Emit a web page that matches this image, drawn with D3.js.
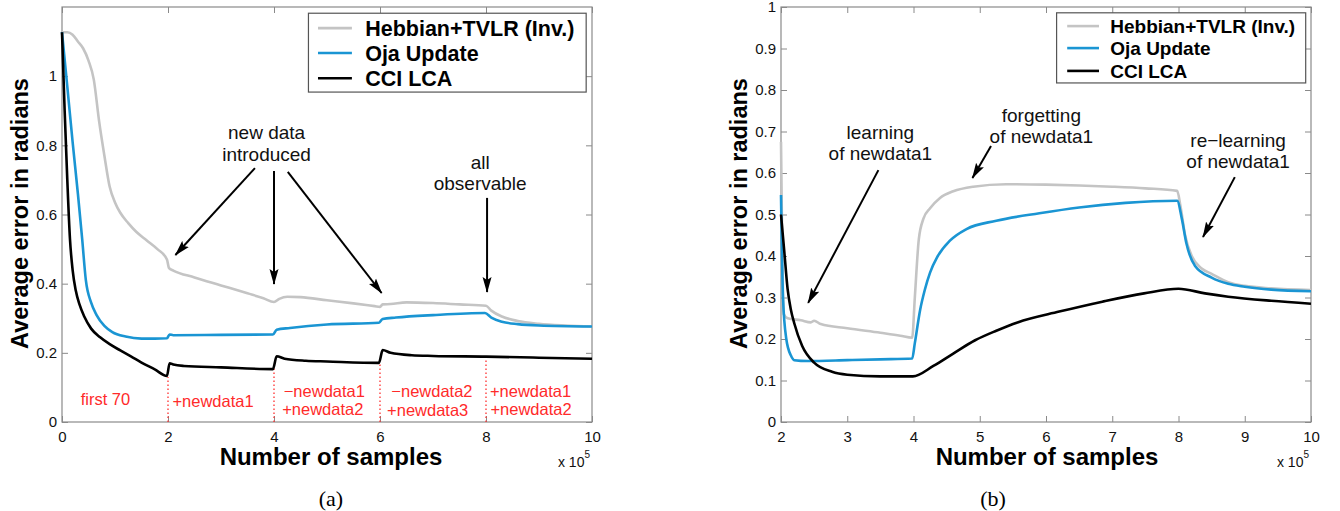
<!DOCTYPE html>
<html><head><meta charset="utf-8">
<script src="https://cdn.jsdelivr.net/npm/d3@7"></script>
<style>body{margin:0;background:#fff}</style>
</head><body>
<svg id="c" width="1340" height="511"></svg>
<script>
// ---------- data ----------
const seriesNames = ["Hebbian+TVLR (Inv.)", "Oja Update", "CCI LCA"];
const seriesColors = ["#c4c4c4", "#1a95d3", "#000000"];

// panel (a): x in units of 1e5 samples, y in radians
const hebbA = [[0,1.127],[0.1,1.127],[0.2,1.12],[0.3,1.10],[0.4,1.08],[0.5,1.045],[0.6,0.99],[0.7,0.87],[0.8,0.77],[0.9,0.68],[1.0,0.635],[1.1,0.605],[1.25,0.575],[1.4,0.55],[1.6,0.525],[1.8,0.50],[1.98,0.47],[2.02,0.445],[2.1,0.438],[2.5,0.418],[3.0,0.395],[3.5,0.372],[3.8,0.358],[4.0,0.347],[4.1,0.356],[4.25,0.362],[4.5,0.361],[5.0,0.352],[5.5,0.343],[5.9,0.335],[6.0,0.333],[6.05,0.34],[6.2,0.341],[6.5,0.346],[7.0,0.344],[7.5,0.34],[8.0,0.336],[8.1,0.322],[8.3,0.305],[8.6,0.292],[9.0,0.284],[9.5,0.279],[10,0.276]];
const ojaA = [[0,1.127],[0.1,0.97],[0.2,0.81],[0.3,0.66],[0.38,0.53],[0.45,0.41],[0.55,0.345],[0.65,0.31],[0.8,0.278],[0.95,0.26],[1.2,0.247],[1.5,0.241],[1.75,0.241],[1.98,0.242],[2.03,0.253],[2.1,0.251],[3.0,0.252],[3.98,0.253],[4.05,0.267],[4.3,0.272],[5.0,0.282],[5.98,0.287],[6.05,0.298],[6.3,0.302],[7.0,0.309],[7.98,0.315],[8.1,0.302],[8.3,0.29],[8.6,0.283],[9.0,0.279],[10,0.276]];
const cciA = [[0,1.127],[0.05,0.9],[0.1,0.7],[0.15,0.53],[0.2,0.44],[0.26,0.38],[0.33,0.34],[0.42,0.305],[0.55,0.27],[0.72,0.245],[0.9,0.225],[1.1,0.207],[1.3,0.19],[1.5,0.172],[1.75,0.152],[1.98,0.133],[2.03,0.17],[2.1,0.166],[2.3,0.162],[3.0,0.158],[3.98,0.153],[4.05,0.19],[4.2,0.183],[4.6,0.177],[5.0,0.175],[5.98,0.171],[6.05,0.208],[6.2,0.2],[6.6,0.193],[7.0,0.191],[8.0,0.189],[9.0,0.186],[10,0.183]];

// panel (b)
const hebbB = [[2.0,0.675],[2.02,0.4],[2.04,0.26],[2.1,0.25],[2.3,0.245],[2.45,0.24],[2.5,0.244],[2.6,0.236],[3.0,0.226],[3.5,0.215],[3.8,0.208],[3.98,0.203],[4.02,0.3],[4.08,0.44],[4.15,0.49],[4.25,0.515],[4.4,0.54],[4.6,0.556],[4.9,0.567],[5.4,0.573],[6.0,0.572],[6.5,0.57],[7.0,0.567],[7.5,0.563],[7.98,0.557],[8.03,0.52],[8.1,0.45],[8.2,0.4],[8.35,0.37],[8.5,0.357],[8.75,0.337],[9.0,0.328],[9.4,0.322],[10,0.318]];
const ojaB = [[2.0,0.547],[2.03,0.3],[2.08,0.2],[2.15,0.16],[2.2,0.149],[2.4,0.147],[3.0,0.149],[3.5,0.151],[3.98,0.153],[4.02,0.19],[4.1,0.27],[4.17,0.318],[4.25,0.36],[4.36,0.398],[4.55,0.437],[4.8,0.465],[5.25,0.485],[5.9,0.503],[6.5,0.517],[7.2,0.528],[7.98,0.533],[8.05,0.49],[8.12,0.43],[8.25,0.376],[8.5,0.348],[8.75,0.333],[9.0,0.326],[9.4,0.319],[10,0.315]];
const cciB = [[2.0,0.50],[2.05,0.41],[2.1,0.32],[2.15,0.27],[2.2,0.238],[2.32,0.183],[2.5,0.143],[2.77,0.121],[3.0,0.114],[3.5,0.11],[3.99,0.11],[4.3,0.135],[4.6,0.165],[4.93,0.197],[5.25,0.22],[5.57,0.24],[6.2,0.266],[6.85,0.29],[7.48,0.31],[8.0,0.321],[8.4,0.31],[8.75,0.302],[9.4,0.292],[10,0.285]];

const xTicksA = [0,2,4,6,8,10];
const yTicksA = [0,0.2,0.4,0.6,0.8,1];
const xTicksB = [2,3,4,5,6,7,8,9,10];
const yTicksB = [0,0.1,0.2,0.3,0.4,0.5,0.6,0.7,0.8,0.9,1];

// red phase markers (panel a)
const phaseX = [2,4,6,8];
const phaseTop = [0.13,0.155,0.17,0.178];
const phaseLabels = [
  {x:0.82, y:0.049, t:"first 70"},
  {x:2.85, y:0.043, t:"+newdata1"},
  {x:4.95, y:0.072, t:"\u2212newdata1"},
  {x:4.92, y:0.020, t:"+newdata2"},
  {x:6.98, y:0.072, t:"\u2212newdata2"},
  {x:6.90, y:0.018, t:"+newdata3"},
  {x:8.84, y:0.072, t:"+newdata1"},
  {x:8.85, y:0.020, t:"+newdata2"}
];

// black annotations
const notesA = [
  {x:3.86, y:0.818, t:"new data"},
  {x:3.86, y:0.755, t:"introduced"},
  {x:7.89, y:0.732, t:"all"},
  {x:7.89, y:0.671, t:"observable"}
];
const arrowsA = [
  [3.64,0.734, 2.14,0.483],
  [4.00,0.726, 4.00,0.399],
  [4.26,0.723, 6.03,0.373],
  [8.02,0.648, 8.02,0.376]
];
const notesB = [
  {x:3.50, y:0.682, t:"learning"},
  {x:3.50, y:0.631, t:"of newdata1"},
  {x:5.93, y:0.723, t:"forgetting"},
  {x:5.93, y:0.672, t:"of newdata1"},
  {x:8.90, y:0.663, t:"re\u2212learning"},
  {x:8.90, y:0.612, t:"of newdata1"}
];
const arrowsB = [
  [3.47,0.607, 2.41,0.287],
  [5.17,0.665, 4.89,0.588],
  [8.85,0.590, 8.37,0.446]
];

// ---------- drawing ----------
const svg = d3.select("#c");
const SANS = "'Liberation Sans', Arial, Helvetica, sans-serif";
const AXC = "#8a8a8a";

const defs = svg.append("defs");
defs.append("marker").attr("id","ah").attr("markerUnits","userSpaceOnUse")
  .attr("markerWidth",17).attr("markerHeight",10).attr("refX",15).attr("refY",5)
  .attr("orient","auto")
  .append("path").attr("d","M0,0.5 L16,5 L0,9.5 L3,5 Z").attr("fill","#000");

function panel(cfg) {
  const x = d3.scaleLinear().domain(cfg.xDomain).range([cfg.left, cfg.right]);
  const y = d3.scaleLinear().domain(cfg.yDomain).range([cfg.bottom, cfg.top]);
  const g = svg.append("g");

  const fmt = d => d3.format("~g")(d);
  const styleAxis = sel => {
    sel.select(".domain").remove();
    sel.selectAll(".tick line").attr("stroke", AXC);
    sel.selectAll(".tick text").attr("fill","#111").style("font-family",SANS).style("font-size","15px");
  };
  g.append("g").attr("transform",`translate(0,${cfg.bottom})`)
    .call(d3.axisBottom(x).tickValues(cfg.xTicks).tickFormat(fmt).tickSizeInner(-6).tickSizeOuter(0).tickPadding(9)).call(styleAxis);
  g.append("g").attr("transform",`translate(0,${cfg.top})`)
    .call(d3.axisTop(x).tickValues(cfg.xTicks).tickFormat("").tickSizeInner(-6).tickSizeOuter(0)).call(styleAxis);
  g.append("g").attr("transform",`translate(${cfg.left},0)`)
    .call(d3.axisLeft(y).tickValues(cfg.yTicks).tickFormat(fmt).tickSizeInner(-6).tickSizeOuter(0).tickPadding(5)).call(styleAxis);
  g.append("g").attr("transform",`translate(${cfg.right},0)`)
    .call(d3.axisRight(y).tickValues(cfg.yTicks).tickFormat("").tickSizeInner(-6).tickSizeOuter(0)).call(styleAxis);

  g.append("rect").attr("x",cfg.left).attr("y",cfg.top)
    .attr("width",cfg.right-cfg.left).attr("height",cfg.bottom-cfg.top)
    .attr("fill","none").attr("stroke",AXC).attr("stroke-width",1.2);

  if (cfg.phases) {
    cfg.phases.xs.forEach((px,i) => {
      g.append("line").attr("x1",x(px)).attr("x2",x(px))
        .attr("y1",y(0)).attr("y2",y(cfg.phases.tops[i]))
        .attr("stroke","#ff3030").attr("stroke-width",1.3).attr("stroke-dasharray","1.5,2.5");
    });
    cfg.phases.labels.forEach(l => {
      g.append("text").attr("x",x(l.x)).attr("y",y(l.y)).attr("text-anchor","middle")
        .attr("fill","#ff2a2a").style("font-family",SANS).style("font-size","16.5px").text(l.t);
    });
  }

  const line = d3.line().x(d=>x(d[0])).y(d=>y(d[1])).curve(d3.curveMonotoneX);
  cfg.series.forEach((s,i) => {
    g.append("path").datum(s).attr("d",line).attr("fill","none")
      .attr("stroke",seriesColors[i]).attr("stroke-width",2.6).attr("stroke-linejoin","round");
  });

  cfg.notes.forEach(n => {
    g.append("text").attr("x",x(n.x)).attr("y",y(n.y)).attr("text-anchor","middle")
      .attr("fill","#111").style("font-family",SANS).style("font-size","19px").text(n.t);
  });
  cfg.arrows.forEach(a => {
    g.append("line").attr("x1",x(a[0])).attr("y1",y(a[1])).attr("x2",x(a[2])).attr("y2",y(a[3]))
      .attr("stroke","#000").attr("stroke-width",2).attr("marker-end","url(#ah)");
  });

  // legend
  const L = cfg.legend;
  const lx0 = x(L.x0), lx1 = x(L.x1);
  g.append("rect").attr("x",lx0).attr("y",y(L.yTop)).attr("width",lx1-lx0).attr("height",y(L.yBot)-y(L.yTop))
    .attr("fill","#fff").attr("stroke","#555").attr("stroke-width",1.2);
  seriesNames.forEach((nm,i) => {
    const yy = y(L.rows[i]);
    g.append("line").attr("x1",x(L.lineX[0])).attr("x2",x(L.lineX[1])).attr("y1",yy).attr("y2",yy)
      .attr("stroke",seriesColors[i]).attr("stroke-width",2.6);
    g.append("text").attr("x",x(L.textX)).attr("y",yy).attr("dy","0.36em")
      .attr("fill","#000").style("font-family",SANS).style("font-weight","bold")
      .style("font-size",L.fs+"px").text(nm);
  });

  // axis titles
  const cx = (cfg.left+cfg.right)/2, cy = (cfg.top+cfg.bottom)/2;
  g.append("text").attr("x",cx+cfg.xTitleDx).attr("y",cfg.bottom+43).attr("text-anchor","middle")
    .style("font-family",SANS).style("font-weight","bold").style("font-size","24px").text("Number of samples");
  g.append("text").attr("transform",`translate(${cfg.left-34},${cy-1}) rotate(-90)`).attr("text-anchor","middle")
    .style("font-family",SANS).style("font-weight","bold").style("font-size","23.5px").text("Average error in radians");
  const ex = g.append("text").attr("x",cfg.right-2).attr("y",cfg.bottom+45).attr("text-anchor","end")
    .style("font-family",SANS).style("font-size","14px").attr("fill","#111");
  ex.append("tspan").text("x 10");
  ex.append("tspan").attr("dy",-9).style("font-size","10px").text("5");
  // caption
  g.append("text").attr("x",cx+cfg.capDx).attr("y",506).attr("text-anchor","middle")
    .style("font-family","'Liberation Serif','Times New Roman',serif").style("font-size","22px").text(cfg.caption);
}

panel({
  left:62, right:592, top:7, bottom:422,
  xDomain:[0,10], yDomain:[0,1.2], xTicks:xTicksA, yTicks:yTicksA,
  series:[hebbA, ojaA, cciA],
  phases:{xs:phaseX, tops:phaseTop, labels:phaseLabels},
  notes:notesA, arrows:arrowsA,
  legend:{x0:4.65, x1:9.89, yTop:1.182, yBot:0.954, rows:[1.139,1.067,0.994], lineX:[4.83,5.47], textX:5.72, fs:21.5},
  caption:"(a)", capDx:4, xTitleDx:4
});
panel({
  left:781, right:1311, top:7, bottom:422,
  xDomain:[2,10], yDomain:[0,1], xTicks:xTicksB, yTicks:yTicksB,
  series:[hebbB, ojaB, cciB],
  notes:notesB, arrows:arrowsB,
  legend:{x0:6.16, x1:9.92, yTop:0.986, yBot:0.817, rows:[0.954,0.901,0.846], lineX:[6.32,6.80], textX:6.97, fs:19},
  caption:"(b)", capDx:-53, xTitleDx:1
});
</script>
</body></html>
